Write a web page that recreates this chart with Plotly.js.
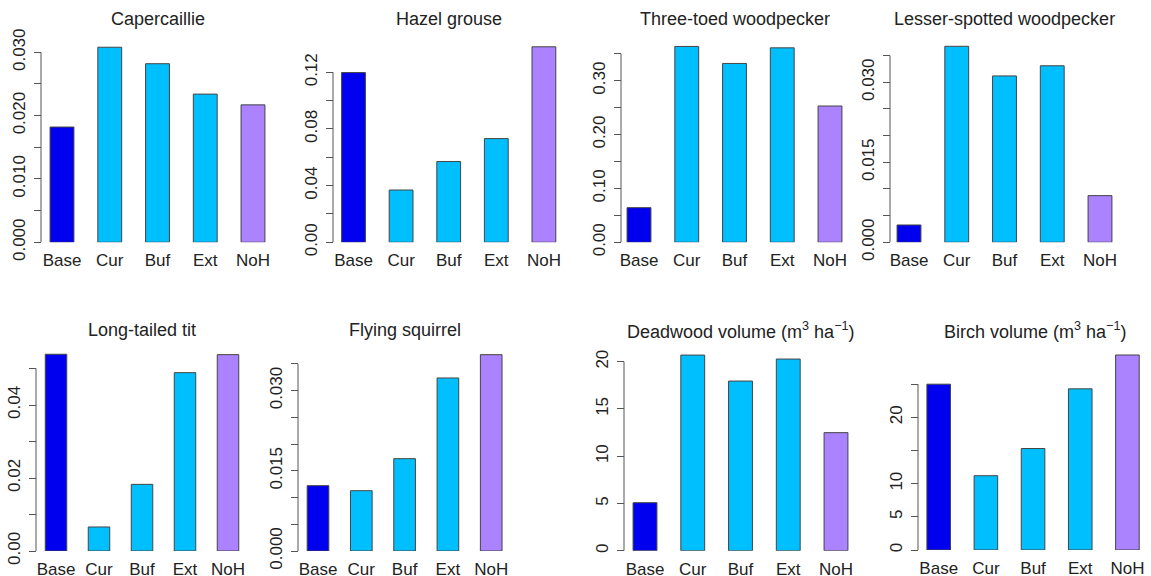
<!DOCTYPE html>
<html><head><meta charset="utf-8">
<script src="https://cdn.plot.ly/plotly-3.0.1.min.js"></script>
<style>body{margin:0;background:#fff}</style></head>
<body><div id="chart" style="width:1151px;height:576px"></div>
<script>
const categories = ["Base","Cur","Buf","Ext","NoH"];
const titles = ["Capercaillie","Hazel grouse","Three-toed woodpecker","Lesser-spotted woodpecker",
  "Long-tailed tit","Flying squirrel","Deadwood volume (m<sup>3</sup> ha<sup>\u22121</sup>)","Birch volume (m<sup>3</sup> ha<sup>\u22121</sup>)"];
const capercaillie = [0.0182,0.0308,0.0282,0.0234,0.0217];
const hazelGrouse = [0.1198,0.0369,0.0570,0.0732,0.1380];
const threeToed = [0.0643,0.3636,0.332,0.361,0.253];
const lesserSpotted = [0.00325,0.03675,0.0312,0.0331,0.00875];
const longTailed = [0.0539,0.00658,0.01826,0.04886,0.0538];
const flyingSquirrel = [0.01222,0.01128,0.01727,0.03236,0.03672];
const deadwood = [5.08,20.7,17.95,20.28,12.49];
const birch = [25.0,11.2,15.3,24.3,29.4];
const seriesList = [capercaillie,hazelGrouse,threeToed,lesserSpotted,longTailed,flyingSquirrel,deadwood,birch];
const tickVals = [
  [0,0.005,0.01,0.015,0.02,0.025,0.03],
  [0,0.02,0.04,0.06,0.08,0.1,0.12],
  [0,0.05,0.1,0.15,0.2,0.25,0.3,0.35],
  [0,0.005,0.01,0.015,0.02,0.025,0.03,0.035],
  [0,0.01,0.02,0.03,0.04,0.05],
  [0,0.005,0.01,0.015,0.02,0.025,0.03,0.035],
  [0,5,10,15,20],
  [0,5,10,15,20,25]];
const tickTexts = [
  ["0.000","","0.010","","0.020","","0.030"],
  ["0.00","","0.04","","0.08","","0.12"],
  ["0.00","","0.10","","0.20","","0.30",""],
  ["0.000","","","0.015","","","0.030",""],
  ["0.00","","0.02","","0.04",""],
  ["0.000","","","0.015","","","0.030",""],
  ["0","5","10","15","20"],
  ["0","5","10","","20",""]];
const colors = ["#0000EE","#00BFFF","#00BFFF","#00BFFF","#AB82FF"];

// layout geometry (pixels)
const W=1151,H=576;
const axisPx = [41,333,621,890,36,298,624,918];
const center0 = [62,353.5,639,909,56,318,645,939];
const spacing = [47.75,47.6,47.75,47.75,43,43.3,47.75,47.75];
const zeroPx = [242.3,242.3,242.3,242.3,551,551,550.7,550];
const pxPerUnit = [6333,1416.7,538.7,5333,3650,5347,9.45,6.633];
const topPx = [40,40,40,40,350,350,350,350];
const titleY = [19,19,19,19,330,330,330,330];

const data=[], layout={width:W,height:H,margin:{l:0,r:0,t:0,b:0},showlegend:false,
  paper_bgcolor:"#fff",plot_bgcolor:"#fff",bargap:0.5,
  font:{family:"Liberation Sans, Arial, sans-serif",size:17,color:"#222"},
  shapes:[],annotations:[]};
for(let i=0;i<8;i++){
  const k=i+1, xa='x'+(k===1?'':k), ya='y'+(k===1?'':k);
  data.push({type:'bar',x:categories,y:seriesList[i],xaxis:xa,yaxis:ya,
    marker:{color:colors,line:{color:'#444',width:1}},hoverinfo:'x+y'});
  const l=center0[i]-0.5*spacing[i], r=center0[i]+4.5*spacing[i];
  const yb=1-zeroPx[i]/H, yt=1-topPx[i]/H;
  const top=(zeroPx[i]-topPx[i])/pxPerUnit[i];
  layout['xaxis'+(k===1?'':k)]={domain:[l/W,r/W],anchor:ya,range:[-0.5,4.5],showline:false,
    ticks:'',showgrid:false,zeroline:false,tickfont:{size:17,color:'#222'},ticklabelstandoff:6,fixedrange:true};
  layout['yaxis'+(k===1?'':k)]={domain:[yb,yt],anchor:'free',position:axisPx[i]/W,range:[0,top],
    tickvals:tickVals[i],ticktext:tickTexts[i],ticks:'outside',ticklen:7,tickcolor:'#555',
    tickangle:-90,showgrid:false,zeroline:false,showline:false,tickfont:{size:17,color:'#222'},
    ticklabelstandoff:2,fixedrange:true};
  const tv=tickVals[i];
  layout.shapes.push({type:'line',xref:'paper',yref:ya,x0:axisPx[i]/W,x1:axisPx[i]/W,y0:0,y1:tv[tv.length-1],
    line:{color:'#555',width:1}});
  layout.annotations.push({xref:'paper',yref:'paper',x:(center0[i]+2*spacing[i])/W,y:1-titleY[i]/H,
    text:titles[i],showarrow:false,xanchor:'center',yanchor:'middle',font:{size:18,color:'#222'}});
}
Plotly.newPlot('chart',data,layout,{displayModeBar:false,staticPlot:true});
</script></body></html>
